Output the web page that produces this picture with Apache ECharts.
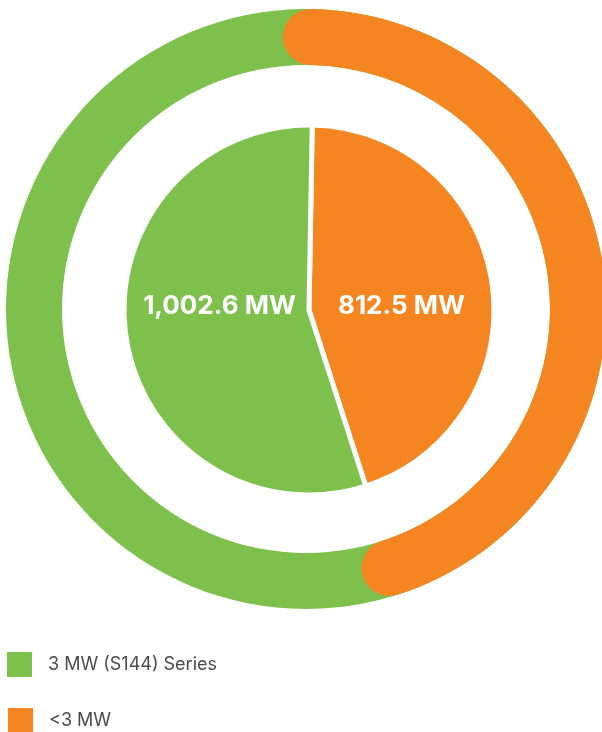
<!DOCTYPE html>
<html>
<head>
<meta charset="utf-8">
<script src="https://cdn.jsdelivr.net/npm/echarts@6/dist/echarts.min.js"></script>
<style>
html,body{margin:0;padding:0;background:#fff;}
#chart{width:602px;height:732px;}
</style>
</head>
<body>
<div id="chart"></div>
<script>
const categories = ['<3 MW', '3 MW (S144) Series'];
const values = [812.5, 1002.6];
const labels = ['812.5 MW', '1,002.6 MW'];
const colors = ['#f58521', '#7dc14c'];
const legendOrder = ['3 MW (S144) Series', '<3 MW'];

const total = values.reduce((a, b) => a + b, 0);
const labelShift = [-2, 5];
const chart = echarts.init(document.getElementById('chart'), null, {renderer: 'canvas'});

const legendBase = {
  orient: 'vertical', left: 5, padding: 0,
  itemWidth: 27, itemHeight: 27, icon: 'rect',
  textStyle: {fontFamily: 'Inter', fontSize: 18, color: '#4a4a4a', padding: [0, 0, 0, 10]}
};

chart.setOption({
  animation: false,
  legend: [
    Object.assign({}, legendBase, {top: 650, data: [legendOrder[0]]}),
    Object.assign({}, legendBase, {top: 706, left: 6, data: [legendOrder[1]]})
  ],
  polar: {center: [306, 309], radius: [244, 300]},
  angleAxis: {type: 'value', min: 0, max: total, startAngle: 89, clockwise: true, show: false},
  radiusAxis: {type: 'category', data: ['ring'], show: false},
  series: [
    {
      type: 'pie', center: [306, 309], radius: [244, 300], z: 1, silent: true,
      label: {show: false}, labelLine: {show: false}, legendHoverLink: false,
      data: [{name: 'ring', value: total, itemStyle: {color: colors[1]}}]
    },
    {
      type: 'bar', coordinateSystem: 'polar', data: [values[0]], barWidth: '100%',
      roundCap: true, itemStyle: {color: colors[0]}, z: 5, silent: true
    },
    {
      type: 'pie',
      center: [309, 310],
      radius: [0, 185],
      startAngle: 89,
      clockwise: true,
      z: 3,
      itemStyle: {borderColor: '#fff', borderWidth: 5},
      label: {
        show: true, position: 'inside',
        formatter: (p) => labels[p.dataIndex],
        color: '#fff', fontFamily: 'Inter', fontWeight: 'bold', fontSize: 26
      },
      labelLayout: function () { return {y: 306}; },
      labelLine: {show: false},
      data: categories.map((c, i) => ({
        name: c, value: values[i], itemStyle: {color: colors[i]},
        label: {offset: [labelShift[i], 0]}
      }))
    }
  ]
});
</script>
</body>
</html>
